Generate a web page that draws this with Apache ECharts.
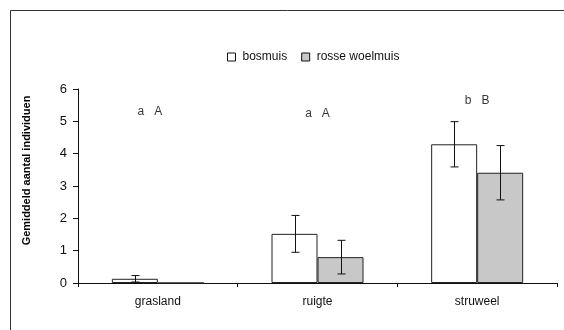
<!DOCTYPE html>
<html>
<head>
<meta charset="utf-8">
<script src="https://cdn.jsdelivr.net/npm/echarts@6/dist/echarts.min.js"></script>
<style>
  html, body { margin: 0; padding: 0; background: #fff; }
  #plot { width: 564px; height: 330px; }
</style>
</head>
<body>
<div id="plot"></div>
<script>
// gegevens
var categories = ['grasland', 'ruigte', 'struweel'];
var bosmuis = [0.13, 1.52, 4.29];
var bosmuisErr = [0.10, 0.57, 0.70];
var rosse = [0, 0.80, 3.41];
var rosseErr = [0, 0.52, 0.84];
var letters = ['a   A', 'a   A', 'b   B'];
var letterY = [5.30, 5.25, 5.63];

var font = 'Liberation Sans';
var barW = 46;

var myChart = echarts.init(document.getElementById('plot'));

// foutbalken met een custom serie
function errorSeries(vals, errs, side) {
  return {
    type: 'custom',
    silent: true,
    z: 5,
    data: vals.map(function (v, i) { return [i, v - errs[i], v + errs[i], errs[i]]; }),
    renderItem: function (params, api) {
      if (api.value(3) <= 0) return null;
      var lo = api.coord([api.value(0), api.value(1)]);
      var hi = api.coord([api.value(0), api.value(2)]);
      var x = Math.round(lo[0] + side * barW / 2) + 0.5;
      var cap = 4;
      var st = { stroke: '#111', lineWidth: 1 };
      return {
        type: 'group',
        children: [
          { type: 'line', shape: { x1: x, y1: lo[1], x2: x, y2: hi[1] }, style: st },
          { type: 'line', shape: { x1: x - cap, y1: lo[1], x2: x + cap, y2: lo[1] }, style: st },
          { type: 'line', shape: { x1: x - cap, y1: hi[1], x2: x + cap, y2: hi[1] }, style: st }
        ]
      };
    }
  };
}

var option = {
  animation: false,
  textStyle: { fontFamily: font },
  graphic: [{
    type: 'polyline',
    shape: { points: [[10.5, 340], [10.5, 10.5], [570, 10.5]] },
    style: { stroke: '#333', lineWidth: 1, fill: null }
  }],
  legend: {
    left: 222,
    top: 46,
    itemWidth: 8,
    itemHeight: 8,
    itemGap: 14,
    icon: 'rect',
    textStyle: { fontSize: 12, color: '#111', fontFamily: font, padding: [0, 0, 0, 2] },
    data: [
      { name: 'bosmuis', itemStyle: { color: '#fff', borderColor: '#111', borderWidth: 1 } },
      { name: 'rosse woelmuis', itemStyle: { color: '#c8c8c8', borderColor: '#111', borderWidth: 1 } }
    ]
  },
  grid: { left: 78, right: 7, top: 89, bottom: 47 },
  xAxis: {
    type: 'category',
    data: categories,
    axisLine: { lineStyle: { color: '#111', width: 1 } },
    axisTick: { show: true, length: 4, lineStyle: { color: '#111' } },
    axisLabel: { color: '#111', fontSize: 12, margin: 13, fontFamily: font }
  },
  yAxis: {
    type: 'value',
    min: 0,
    max: 6,
    interval: 1,
    name: 'Gemiddeld aantal individuen',
    nameLocation: 'middle',
    nameGap: 46,
    nameRotate: 90,
    nameTextStyle: { fontSize: 11, fontWeight: 'bold', color: '#000', fontFamily: font, padding: [0, 0, 0, 31] },
    splitLine: { show: false },
    axisLine: { show: true, lineStyle: { color: '#111', width: 1 } },
    axisTick: { show: true, length: 5, lineStyle: { color: '#111' } },
    axisLabel: { color: '#111', fontSize: 13, margin: 11, fontFamily: font }
  },
  series: [
    {
      name: 'bosmuis',
      type: 'bar',
      data: bosmuis,
      barWidth: barW,
      barGap: '0%',
      itemStyle: { color: '#fff', borderColor: '#222', borderWidth: 1 }
    },
    {
      name: 'rosse woelmuis',
      type: 'bar',
      data: rosse,
      barWidth: barW,
      barGap: '0%',
      itemStyle: { color: '#c8c8c8', borderColor: '#222', borderWidth: 1 }
    },
    errorSeries(bosmuis, bosmuisErr, -1),
    errorSeries(rosse, rosseErr, 1),
    {
      type: 'scatter',
      symbolSize: 0,
      silent: true,
      data: letters.map(function (t, i) {
        return { value: [i, letterY[i]], name: t, label: { offset: i === 0 ? [-8, 0] : [0, 0] } };
      }),
      label: {
        show: true,
        position: 'inside',
        formatter: function (p) { return p.name; },
        color: '#000',
        fontSize: 12,
        fontFamily: font
      }
    }
  ]
};

myChart.setOption(option);
</script>
</body>
</html>
